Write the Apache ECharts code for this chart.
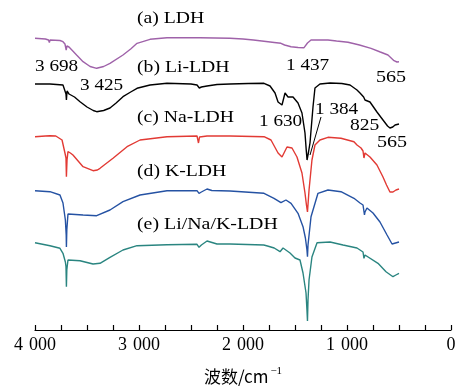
<!DOCTYPE html>
<html><head><meta charset="utf-8">
<script src="https://cdn.jsdelivr.net/npm/echarts@6/dist/echarts.min.js"></script>
<style>html,body{margin:0;padding:0;background:#fff}#c{width:462px;height:391px}</style>
</head><body><div id="c"></div>
<script>
// wavenumber (cm-1), relative transmittance (stacked, arbitrary units)
const ldh = [[4000,291.7],[3900,291],[3870,290],[3862,287.5],[3855,290],[3760,289.5],[3731,288.3],[3712,286],[3700,280],[3693,284],[3673,283],[3600,275],[3538,268.3],[3470,263.5],[3407,261.7],[3340,263.5],[3279,266.7],[3154,275],[3080,281],[3019,286.7],[2894,290.7],[2731,292.3],[2413,292.3],[2125,291.7],[2000,291],[1900,290],[1798,288.7],[1700,287.5],[1635,286.7],[1600,285],[1538,283.3],[1470,282.5],[1413,282.3],[1380,287],[1346,290],[1183,290],[1100,289],[990,287.7],[880,285],[769,281.7],[680,278],[606,275],[548,269.3],[520,268],[500,268.3]];
const liLdh = [[4000,246],[3900,246],[3856,246],[3731,245],[3712,243],[3702,236],[3698,230],[3692,239],[3673,236],[3620,233],[3567,228.3],[3500,223],[3440,219.5],[3407,218.3],[3340,219.5],[3279,222],[3220,227],[3154,233.3],[3080,238],[3019,241.7],[2894,245],[2731,246.7],[2500,246],[2442,245],[2420,242],[2400,243],[2346,244],[2250,245.5],[2125,246],[1950,246.5],[1798,246.7],[1740,244],[1692,237],[1663,228],[1625,225],[1596,237],[1567,233],[1519,233],[1471,227],[1433,217],[1404,197],[1392,180],[1384,170],[1370,178],[1356,187],[1327,223],[1308,242],[1260,246],[1163,247],[1050,246.5],[971,245],[904,240],[875,237],[840,233],[827,230],[815,231],[779,228],[712,218],[654,210],[610,204],[587,202],[560,203],[538,205],[500,206]];
const naLdh = [[4000,193.3],[3900,194],[3856,194.3],[3800,194],[3740,190],[3712,177],[3702,172],[3698,153.3],[3692,170],[3683,178.3],[3660,177],[3635,175],[3538,163.3],[3442,159.3],[3400,160],[3375,161.7],[3250,171.7],[3115,183.3],[2990,190],[2731,193.3],[2442,194],[2428,187],[2418,193],[2346,194],[2125,194],[1798,193.3],[1731,190],[1663,177],[1625,173],[1577,183],[1529,182],[1481,173],[1433,157],[1404,137],[1390,125],[1380,118],[1365,140],[1337,170],[1308,185],[1260,190],[1183,192.7],[1058,191.7],[933,188.3],[904,185],[865,182],[846,179],[837,172],[827,177],[808,178],[779,173],[712,165],[654,153],[620,145],[587,138],[558,138],[529,140],[500,141]];
const kLdh = [[4000,139.3],[3856,138.3],[3760,135],[3731,127],[3708,110],[3700,95],[3698,83],[3694,100],[3683,116],[3673,116],[3538,115],[3407,114.3],[3279,120],[3154,128.3],[2990,135],[2731,139.3],[2442,139.3],[2423,136.7],[2400,138],[2346,141],[2300,139.5],[2125,139],[1798,136.7],[1702,131.7],[1635,127.3],[1587,130],[1538,126.7],[1471,116.7],[1423,103.3],[1400,92],[1385,80],[1380,73.3],[1375,85],[1346,113.3],[1279,136.7],[1183,140],[1058,138.3],[933,131.7],[875,127],[846,125],[832,115],[827,118],[808,122],[750,117],[683,108],[615,95],[567,86],[558,86.7],[500,88]];
const mixLdh = [[4000,87.3],[3856,84.3],[3760,81.7],[3731,76.7],[3708,68],[3702,63.3],[3698,43.3],[3694,60],[3683,70],[3567,69.3],[3442,66],[3375,66.7],[3279,72.7],[3154,80],[3019,84.3],[2731,85.3],[2442,85.7],[2423,82.7],[2400,85],[2346,89],[2250,86],[2125,86],[1800,85],[1765,84],[1760,82.5],[1755,84],[1700,82],[1644,78.3],[1615,82],[1548,77],[1500,72],[1452,70],[1423,57],[1394,37],[1385,20],[1380,9],[1375,30],[1365,50],[1337,73],[1288,87.3],[1163,88],[1038,85],[904,82],[894,80.7],[846,78],[837,71.7],[827,75],[817,76],[702,66.7],[625,58.3],[558,53.3],[530,55],[500,56.7]];

const seriesNames = ['(a) LDH','(b) Li-LDH','(c) Na-LDH','(d) K-LDH','(e) Li/Na/K-LDH'];
const peakLabels = ['3 698','3 425','1 437','565','1 630','1 384','825','565'];
const tickValues = [4000,3000,2000,1000,0];
const tickLabels = ['4\u2004000','3\u2004000','2\u2004000','1\u2004000','0'];
const colors = ['#9f62a9','#000000','#e23a34','#2552a3','#2a8580'];

const chart = echarts.init(document.getElementById('c'), null, {renderer:'canvas'});
const font = '"Liberation Serif", "Times New Roman", serif';
const datasets = [ldh, liLdh, naLdh, kLdh, mixLdh];

const txt = (s, x, y, sx) => ({
  type:'text', x:x, y:y, scaleX:sx,
  style:{text:s, font:'17px ' + font, fill:'#000', textAlign:'left', textVerticalAlign:'top'}
});

chart.setOption({
  animation:false,
  grid:{left:35, right:11, top:0, bottom:61, containLabel:false},
  xAxis:{
    type:'value', inverse:true, min:0, max:4000, interval:250,
    axisLine:{show:true, lineStyle:{color:'#000', width:1.2}},
    axisTick:{show:true, inside:true, length:5, lineStyle:{color:'#000', width:1.2}},
    splitLine:{show:false},
    axisLabel:{
      margin:6, color:'#000', fontFamily:font, fontSize:18,
      formatter: v => { const i = tickValues.indexOf(v); return i >= 0 ? tickLabels[i] : ''; }
    },
    name:'波数/cm{s|−1}', nameLocation:'middle', nameGap:36,
    nameTextStyle:{color:'#000', fontFamily:'"Noto Sans CJK SC", ' + font, fontSize:17,
      rich:{s:{fontSize:11, verticalAlign:'top', padding:[0,0,10,2], fontFamily:font, color:'#000'}}}
  },
  yAxis:{type:'value', min:0, max:330, show:false},
  series: datasets.map((d,i) => ({
    name: seriesNames[i], type:'line', data:d, showSymbol:false, symbol:'none',
    lineStyle:{color:colors[i], width:1.4}, z: 2
  })),
  graphic:[
    txt(seriesNames[0], 137, 10, 1.16),
    txt(seriesNames[1], 137, 59, 1.16),
    txt(seriesNames[2], 137, 109, 1.16),
    txt(seriesNames[3], 137, 163, 1.16),
    txt(seriesNames[4], 137, 216, 1.17),
    txt(peakLabels[0], 35, 58, 1.13),
    txt(peakLabels[1], 80, 77, 1.13),
    txt(peakLabels[2], 286, 57, 1.13),
    txt(peakLabels[3], 376, 69, 1.18),
    txt(peakLabels[4], 259, 113, 1.13),
    txt(peakLabels[5], 315, 101, 1.13),
    txt(peakLabels[6], 350, 117, 1.15),
    txt(peakLabels[7], 377, 134, 1.18),
    {type:'line', shape:{x1:321, y1:117, x2:310, y2:155}, style:{stroke:'#000', lineWidth:1}}
  ]
});
</script></body></html>
